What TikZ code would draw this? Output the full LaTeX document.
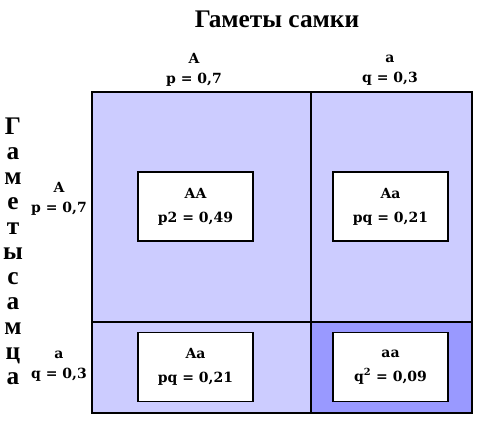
\documentclass[tikz,border=0pt]{standalone}
\usepackage{fontspec}
\setmainfont{DejaVu Serif}
\newfontfamily\headfont{Liberation Serif}
\definecolor{lightcell}{RGB}{204,204,255}
\definecolor{darkcell}{RGB}{153,153,255}
\begin{document}
\begin{tikzpicture}[x=0.75pt, y=-0.75pt,
    every node/.style={font=\bfseries\fontsize{10.5}{15}\selectfont, inner sep=0pt},
    genotype/.style={draw=black, line width=0.8pt, fill=white, minimum width=86.25pt,
        minimum height=51.75pt, align=center, font=\bfseries\fontsize{10.5}{18}\selectfont},
    gamete/.style={align=center}]
    \useasboundingbox (0,0) rectangle (497,437);
    % cells of the lattice
    \fill[lightcell] (92,92) rectangle (472,413);
    \fill[darkcell] (311,322) rectangle (472,413);
    \draw[line width=1.1pt] (92,92) rectangle (472,413);
    \draw[line width=1.1pt] (311,92) -- (311,413);
    \draw[line width=1.1pt] (92,322) -- (472,322);
    % headings
    \node[font=\headfont\bfseries\fontsize{19}{20}\selectfont] (female) at (277,19) {Гаметы самки};
    \node[font=\headfont\bfseries\fontsize{19}{18.75}\selectfont, align=center] (male) at (13,251)
        {Г\\а\\м\\е\\т\\ы\\с\\а\\м\\ц\\а};
    \node[gamete] (fA) at (194,70) {A\\p = 0,7};
    \node[gamete] (fa) at (390,70) {a\\q = 0,3};
    \node[gamete] (mA) at (59,199) {A\\p = 0,7};
    \node[gamete] (ma) at (59,366) {a\\q = 0,3};
    % zygotes
    \node[genotype] (AA) at (195.5,206.5) {AA\\p2 = 0,49};
    \node[genotype] (Aa1) at (390.5,206.5) {Aa\\pq = 0,21};
    \node[genotype] (Aa2) at (195.5,367) {Aa\\pq = 0,21};
    \node[genotype] (aa) at (390.5,367) {aa\\q\textsuperscript{2} = 0,09};
\end{tikzpicture}
\end{document}
